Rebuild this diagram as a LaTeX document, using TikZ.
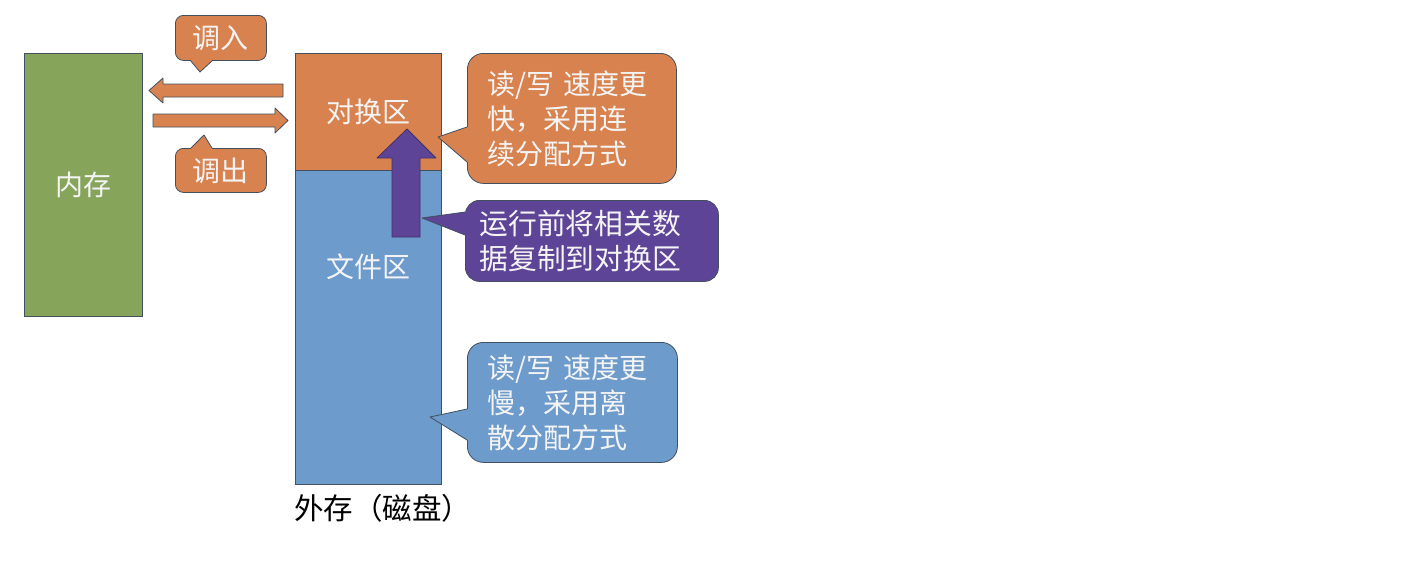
\documentclass[tikz,border=0pt]{standalone}
\usepackage{fontspec}
\newfontfamily\cjk{Noto Sans CJK SC}
\definecolor{orangeF}{HTML}{D8834F}
\definecolor{blueF}{HTML}{6D9BCB}
\definecolor{greenF}{HTML}{86A55B}
\definecolor{purpleF}{HTML}{5E4497}
\definecolor{edgeC}{HTML}{42505F}
\definecolor{txtC}{HTML}{F4F4F4}
\begin{document}
\begin{tikzpicture}[x=1pt,y=-1pt,
  box/.style={draw=edgeC, line width=0.8pt, inner sep=0pt, anchor=north west},
  lbl/.style={text=txtC, font={\cjk\fontsize{28}{35}\selectfont}},
  bubble/.style={draw=edgeC, line width=0.8pt, text=txtC, font={\cjk\fontsize{28}{35}\selectfont}, anchor=north west},
  edgeline/.style={draw=edgeC, line width=0.8pt, line join=round}]
\useasboundingbox (0,0) rectangle (1426,574);
\fill[white] (0,0) rectangle (1426,574);

% memory
\node[box, fill=greenF, minimum width=118pt, minimum height=263pt, lbl] (mem) at (24,53) {内存};

% disk column
\node[box, fill=orangeF, minimum width=146pt, minimum height=117pt, lbl] (swap) at (295,53) {对换区};
\node[box, fill=blueF, minimum width=146pt, minimum height=314pt] (file) at (295,170) {};
\node[lbl] (filelbl) at (368,267) {文件区};
\node[anchor=west, font={\cjk\fontsize{29.5}{35}\selectfont}, text=black, inner sep=0pt] (disk) at (294,508) {外存（磁盘）};

% horizontal block arrows
\filldraw[fill=orangeF, edgeline] (283,84) -- (163,84) -- (163,78) -- (149,90.5) -- (163,103) -- (163,97) -- (283,97) -- cycle;
\filldraw[fill=orangeF, edgeline] (153,114) -- (275,114) -- (275,108) -- (288,120.5) -- (275,133) -- (275,127) -- (153,127) -- cycle;

% in / out bubbles
\node[bubble, fill=orangeF, rounded corners=8pt, minimum width=91pt, minimum height=45pt, inner sep=0pt, align=center] (in) at (175,15) {调入};
\fill[orangeF] (200,72) -- (190,60) -- (190,55) -- (213,55) -- (213,60) -- cycle;
\draw[edgeline] (190,60) -- (200,72) -- (213,60);

\node[bubble, fill=orangeF, rounded corners=8pt, minimum width=91pt, minimum height=44pt, inner sep=0pt, align=center] (out) at (175,148) {调出};
\fill[orangeF] (204,135) -- (191,148) -- (191,153) -- (212,153) -- (212,148) -- cycle;
\draw[edgeline] (191,148) -- (204,135) -- (212,148);

% purple up arrow
\filldraw[fill=purpleF, draw=purpleF!70!black, line width=0.8pt, line join=round] (392,237) -- (392,158) -- (377,158) -- (407,129) -- (436,158) -- (420,158) -- (420,237) -- cycle;

% fast bubble
\node[bubble, fill=orangeF, rounded corners=16pt, text width=169pt, inner xsep=20pt, inner ysep=0pt, minimum height=130pt, align=left] (fast) at (467,53) {读/写 速度更\\快，采用连\\续分配方式};
\fill[orangeF] (438,137) -- (467,127) -- (473,127) -- (473,162) -- (467,162) -- cycle;
\draw[edgeline] (467,127) -- (438,137) -- (467,162);

% purple bubble
\node[bubble, fill=purpleF, rounded corners=14pt, text width=225pt, inner xsep=14pt, inner ysep=0pt, minimum height=81pt, align=left, font={\cjk\fontsize{28.8}{35}\selectfont}] (copy) at (465,200) {运行前将相关数\\据复制到对换区};
\fill[purpleF] (422,218) -- (465,212) -- (471,212) -- (471,235) -- (465,235) -- cycle;
\draw[edgeline] (465,212) -- (422,218) -- (465,235);

% slow bubble
\node[bubble, fill=blueF, rounded corners=16pt, text width=170pt, inner xsep=20pt, inner ysep=0pt, minimum height=120pt, align=left] (slow) at (467,342) {读/写 速度更\\慢，采用离\\散分配方式};
\fill[blueF] (430,417) -- (467,409) -- (473,409) -- (473,440) -- (467,440) -- cycle;
\draw[edgeline] (467,409) -- (430,417) -- (467,440);
\end{tikzpicture}
\end{document}
